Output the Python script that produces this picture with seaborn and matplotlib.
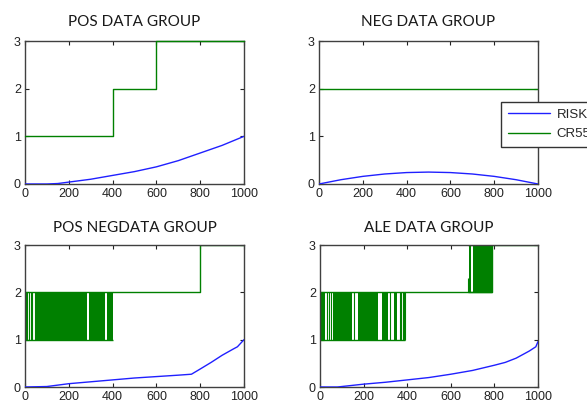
import matplotlib
matplotlib.use("Agg")
import matplotlib.pyplot as plt
import seaborn as sns
import pandas as pd

# ---------------- data ----------------
titles = ["POS DATA GROUP", "NEG DATA GROUP", "POS NEGDATA GROUP", "ALE DATA GROUP"]
legend_labels = ["RISK", "CR55"]
x_ticks = [0, 200, 400, 600, 800, 1000]
y_ticks = [0, 1, 2, 3]

# RISK curves
risk1_x = [0, 100, 150, 200, 300, 400, 500, 600, 700, 800, 900, 1000]
risk1_y = [0, 0, 0.01, 0.04, 0.10, 0.18, 0.26, 0.36, 0.49, 0.65, 0.81, 1.0]
risk2_x = [0, 100, 200, 300, 400, 500, 600, 700, 800, 900, 1000]
risk2_y = [0, 0.09, 0.16, 0.21, 0.24, 0.25, 0.24, 0.21, 0.16, 0.09, 0]
risk3_x = [0, 100, 200, 300, 400, 500, 600, 700, 760, 800, 850, 900, 950, 970, 1000]
risk3_y = [0, 0.01, 0.07, 0.11, 0.15, 0.19, 0.22, 0.25, 0.27, 0.38, 0.52, 0.67, 0.80, 0.85, 1.0]
risk4_x = [0, 80, 200, 300, 400, 500, 600, 700, 800, 850, 900, 960, 990, 1000]
risk4_y = [0, 0, 0.06, 0.10, 0.15, 0.20, 0.27, 0.35, 0.46, 0.52, 0.61, 0.76, 0.85, 0.96]

# CR55 step levels (steps-post)
cr1_x = [0, 400, 600, 1000]
cr1_y = [1, 2, 3, 3]
cr2_x = [0, 1000]
cr2_y = [2, 2]
cr3_x = [400, 800, 1000]
cr3_y = [2, 3, 3]
cr4_x = [392, 680, 790, 1000]
cr4_y = [2, 2, 3, 3]

# CR55 rapidly toggling regions: (extent start, extent end, low, high)
band3_extent = [(0, 400, 1, 2)]
band3_solid = [(52, 285), (291, 366), (373, 400)]
band3_spikes = [4, 11, 18, 26, 34, 44]

band4_extent = [(0, 392, 1, 2), (680, 790, 2, 3)]
band4_solid = [(0, 23), (61, 145), (176, 268), (283, 313), (340, 355), (683, 693), (700, 788)]
band4_spikes = [30, 40, 50, 158, 321, 367, 372, 379, 386, 390, 678]
band4_spike_lo = [1, 1, 1, 1, 1, 1, 1, 1, 1, 1, 2]
band4_spike_hi = [2, 2, 2, 2, 2, 2, 2, 2, 2, 2, 2.3]
band4_solid_lo = [1, 1, 1, 1, 1, 2, 2]
band4_solid_hi = [2, 2, 2, 2, 2, 3, 3]

# ---------------- style ----------------
W, H, DPI = 587, 408, 100
sns.set_theme(style="white")
plt.rcParams["font.family"] = ["Liberation Sans", "DejaVu Sans"]

BLUE = "#2020ff"
GREEN = "#008000"
SPINE = "#404040"

fig = plt.figure(figsize=(W / DPI, H / DPI), dpi=DPI)
fig.patch.set_facecolor("white")

def px_axes(l, t, r, b):
    return fig.add_axes([l / W, 1 - b / H, (r - l) / W, (b - t) / H])

axes = [
    px_axes(25, 41, 244, 184),
    px_axes(319, 41, 538, 184),
    px_axes(25, 245, 244, 387),
    px_axes(320, 245, 538, 387),
]

risks = [(risk1_x, risk1_y), (risk2_x, risk2_y), (risk3_x, risk3_y), (risk4_x, risk4_y)]
crs = [(cr1_x, cr1_y), (cr2_x, cr2_y), (cr3_x, cr3_y), (cr4_x, cr4_y)]

for i, ax in enumerate(axes):
    rx, ry = risks[i]
    cx, cy = crs[i]
    sns.lineplot(x=rx, y=ry, ax=ax, color=BLUE, lw=1.0, estimator=None, sort=False,
                 label=legend_labels[0] if i == 1 else None, zorder=3)
    sns.lineplot(x=cx, y=cy, ax=ax, color=GREEN, lw=1.0, estimator=None, sort=False,
                 drawstyle="steps-post", label=legend_labels[1] if i == 1 else None,
                 zorder=4 if i == 0 else 2, clip_on=(i != 0))
    ax.set_xlim(0, 1000)
    ax.set_ylim(0, 3)
    ax.set_xticks(x_ticks)
    ax.set_yticks(y_ticks)
    ax.set_xticklabels([str(v) for v in x_ticks])
    ax.set_yticklabels([str(v) for v in y_ticks])
    ax.tick_params(direction="in", length=3, width=0.8, color="#222222",
                   top=True, right=True, bottom=True, left=True,
                   labelsize=9, labelcolor="#222222", pad=3)
    for s in ax.spines.values():
        s.set_color(SPINE)
        s.set_linewidth(1.0)
        s.set_visible(True)
    ax.set_title(titles[i], fontsize=11, family=["Lato", "DejaVu Sans"], color="#1a1a1a",
                 pad=11 if i < 2 else 9)
    if ax.get_legend() is not None:
        ax.get_legend().remove()

def draw_band(ax, extents, solids, solid_lo, solid_hi, spikes, spike_lo, spike_hi):
    for (a, b, lo, hi) in extents:
        ax.hlines([lo, hi], a, b, color=GREEN, lw=1.0, zorder=2)
    for (a, b), lo, hi in zip(solids, solid_lo, solid_hi):
        ax.fill_between([a, b], [lo, lo], [hi, hi], color=GREEN, lw=0, zorder=2)
    ax.vlines(spikes, spike_lo, spike_hi, color=GREEN, lw=0.8, zorder=2)

draw_band(axes[2], band3_extent, band3_solid, [1] * len(band3_solid), [2] * len(band3_solid),
          band3_spikes, [1] * len(band3_spikes), [2] * len(band3_spikes))
draw_band(axes[3], band4_extent, band4_solid, band4_solid_lo, band4_solid_hi,
          band4_spikes, band4_spike_lo, band4_spike_hi)

handles, labels = axes[1].get_legend_handles_labels()
leg = fig.legend(handles, labels, loc="upper left", bbox_to_anchor=(501 / W, 1 - 102 / H),
                 fontsize=9.5, frameon=True, fancybox=False, shadow=False, framealpha=1,
                 edgecolor="#333333", handlelength=3.2, borderpad=0.5, labelspacing=0.55,
                 handletextpad=0.5, borderaxespad=0)
leg.get_frame().set_linewidth(1.0)

fig.savefig("out.png", dpi=DPI, facecolor="white")
